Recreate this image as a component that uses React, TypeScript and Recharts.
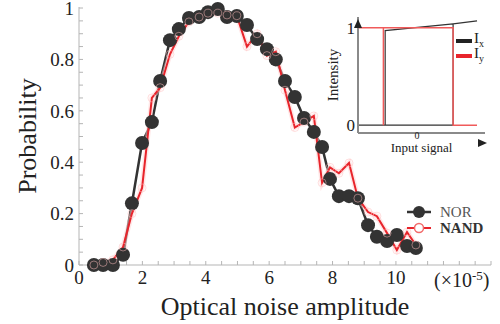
import { LineChart, Line, XAxis, YAxis, Label } from "recharts"

const serif = '"Liberation Serif", "Times New Roman", serif'

// noise amplitude (x 1e-5)
const amplitude = [0.47, 0.76, 1.07, 1.39, 1.67, 1.99, 2.3, 2.56, 2.87, 3.15, 3.47, 3.79, 4.07, 4.38, 4.67, 4.98, 5.3, 5.62, 5.93, 6.21, 6.5, 6.81, 7.1, 7.41, 7.67, 7.92, 8.2, 8.52, 8.8, 9.12, 9.4, 9.72, 10.03, 10.35, 10.63]
const norProb = [0, 0, 0, 0.04, 0.24, 0.475, 0.556, 0.716, 0.875, 0.918, 0.961, 0.965, 0.984, 0.996, 0.965, 0.969, 0.934, 0.879, 0.84, 0.8, 0.716, 0.654, 0.572, 0.518, 0.459, 0.335, 0.268, 0.268, 0.26, 0.155, 0.11, 0.093, 0.117, 0.074, 0.066]
const nandProb = [0, 0.01, 0.02, 0.07, 0.2, 0.3, 0.65, 0.69, 0.82, 0.89, 0.946, 0.965, 0.98, 0.98, 0.973, 0.97, 0.85, 0.9, 0.815, 0.83, 0.68, 0.535, 0.556, 0.58, 0.32, 0.38, 0.357, 0.397, 0.26, 0.206, 0.19, 0.124, 0.058, 0.128, 0.078]

const xMajor = [0, 2, 4, 6, 8, 10]
const yMajor = [0, 0.2, 0.4, 0.6, 0.8, 1]
const xMinor = Array.from({ length: 27 }, (_, i) => i * 0.5)
const yMinor = Array.from({ length: 21 }, (_, i) => Math.round(i * 5) / 100)

// inset: hysteresis of the two outputs
const ixSignal = [-1, 0.61, 0.61, -0.54, -0.54, -0.54, 0.61, 1.015]
const ixLevel = [0, 0, 1.04, 0.97, 0, 0.97, 1.04, 1.07]
const iySignal = [-0.57, -0.57, -1, 0.61, 0.61, 1.015]
const iyLevel = [0, 1, 1, 1, 0, 0]

const data = amplitude.map((x, i) => ({ x, nor: norProb[i], nand: nandProb[i] }))
const ixData = ixSignal.map((s, i) => ({ s, v: ixLevel[i] }))
const iyData = iySignal.map((s, i) => ({ s, v: iyLevel[i] }))

const axisGrey = "#b5b5b5"

function MainLegend() {
  return (
    <div style={{ position: "absolute", left: 406, top: 204, fontFamily: serif, fontSize: 15, lineHeight: "16px" }}>
      <div style={{ display: "flex", alignItems: "center", color: "#555" }}>
        <svg width={26} height={16}>
          <line x1={1} y1={8} x2={25} y2={8} stroke="#333" strokeWidth={2.5} />
          <circle cx={13} cy={8} r={6} fill="#333" />
        </svg>
        <span style={{ marginLeft: 8 }}>NOR</span>
      </div>
      <div style={{ display: "flex", alignItems: "center", color: "#333", fontWeight: "bold" }}>
        <svg width={26} height={16}>
          <line x1={1} y1={8} x2={25} y2={8} stroke="#e8242b" strokeWidth={2} />
          <circle cx={13} cy={8} r={4.5} fill="#fff" stroke="#f26b6b" strokeWidth={1.5} />
        </svg>
        <span style={{ marginLeft: 8 }}>NAND</span>
      </div>
    </div>
  )
}

function InsetLegend() {
  const row = (color: string, sub: string) => (
    <div style={{ display: "flex", alignItems: "center", height: 15 }}>
      <svg width={16} height={8}>
        <line x1={0} y1={4} x2={16} y2={4} stroke={color} strokeWidth={4} />
      </svg>
      <span style={{ marginLeft: 2 }}>
        I<sub style={{ fontSize: 10 }}>{sub}</sub>
      </span>
    </div>
  )
  return (
    <div style={{ position: "absolute", left: 456, top: 33, fontFamily: serif, fontSize: 15, color: "#222", lineHeight: "15px" }}>
      {row("#222", "x")}
      {row("#e8242b", "y")}
    </div>
  )
}

export default function App() {
  return (
    <div style={{ position: "absolute", left: 0, top: 0, width: 500, height: 324, background: "#fff" }}>
      <LineChart width={500} height={324} data={data} margin={{ top: 7, right: 9, left: 0, bottom: 0 }}>
        <XAxis
          dataKey="x"
          type="number"
          domain={[0, 13]}
          ticks={xMinor}
          interval={0}
          height={59}
          tickSize={-4}
          tickMargin={10}
          stroke={axisGrey}
          tick={{ fill: "#222", fontSize: 19, fontFamily: serif }}
          tickFormatter={(v: number) => (xMajor.includes(v) ? String(v) : "")}
        >
          <Label value="Optical noise amplitude" position="insideBottom" offset={9} style={{ fontSize: 26, fontFamily: serif, fill: "#222" }} />
        </XAxis>
        <XAxis xAxisId="top" orientation="top" type="number" domain={[0, 13]} ticks={xMinor} interval={0} height={0} tickSize={-4} tick={false} stroke={axisGrey} />
        <YAxis
          type="number"
          domain={[0, 1.004]}
          ticks={yMinor}
          interval={0}
          width={79}
          tickSize={-4}
          tickMargin={9}
          stroke={axisGrey}
          tick={{ fill: "#222", fontSize: 19, fontFamily: serif }}
          tickFormatter={(v: number) => (yMajor.includes(v) ? String(v) : "")}
        >
          <Label value="Probability" angle={-90} position="insideLeft" offset={27} style={{ fontSize: 26, fontFamily: serif, fill: "#222", textAnchor: "middle" }} />
        </YAxis>
        <YAxis yAxisId="right" orientation="right" type="number" domain={[0, 1.004]} ticks={yMinor} interval={0} width={0} tickSize={-4} tick={false} stroke={axisGrey} />
        <Line
          dataKey="nor"
          stroke="#333"
          strokeWidth={2.5}
          dot={{ r: 7, fill: "#333", stroke: "#333", strokeWidth: 0 }}
          activeDot={false}
          isAnimationActive={false}
        />
        <Line
          dataKey="nand"
          stroke="#ffd0d0"
          strokeWidth={5}
          strokeOpacity={0.5}
          dot={{ r: 4, fill: "none", stroke: "#ffbdbd", strokeWidth: 1 }}
          activeDot={false}
          isAnimationActive={false}
        />
        <Line dataKey="nand" stroke="#e8242b" strokeWidth={2} dot={false} activeDot={false} isAnimationActive={false} />
      </LineChart>

      <div
        style={{
          position: "absolute",
          left: 434,
          top: 268,
          fontFamily: serif,
          fontSize: 20,
          color: "#222",
          whiteSpace: "nowrap",
        }}
      >
        (×10<sup style={{ fontSize: 13, verticalAlign: "7px" }}>-5</sup>)
      </div>

      <div style={{ position: "absolute", left: 300, top: 10 }}>
        <LineChart width={190} height={145} margin={{ top: 7, right: 5, left: 0, bottom: 0 }}>
          <XAxis
            dataKey="s"
            type="number"
            domain={[-1, 1.15]}
            ticks={[0]}
            height={22}
            tickLine={false}
            tickSize={0}
            tickMargin={-1}
            axisLine={{ stroke: "#8a8a8a", strokeWidth: 2 }}
            tick={{ fill: "#222", fontSize: 10, fontFamily: serif }}
          >
            <Label value="Input signal" position="insideBottom" offset={3} style={{ fontSize: 13, fontFamily: serif, fill: "#222" }} />
          </XAxis>
          <YAxis
            type="number"
            domain={[-0.08, 1.11]}
            ticks={[0, 1]}
            width={58}
            tickLine={false}
            tickSize={0}
            tickMargin={3}
            axisLine={{ stroke: "#8a8a8a", strokeWidth: 2 }}
            tick={{ fill: "#222", fontSize: 17, fontFamily: serif }}
          >
            <Label value="Intensity" angle={-90} position="insideLeft" offset={33} style={{ fontSize: 15, fontFamily: serif, fill: "#222", textAnchor: "middle" }} />
          </YAxis>
          <Line data={ixData} dataKey="v" stroke="#333" strokeWidth={1.2} dot={false} activeDot={false} isAnimationActive={false} />
          <Line data={iyData} dataKey="v" stroke="#f05a5a" strokeWidth={1.5} dot={false} activeDot={false} isAnimationActive={false} />
        </LineChart>
        {/* axis arrowheads */}
        <svg width={190} height={145} style={{ position: "absolute", left: 0, top: 0, pointerEvents: "none" }}>
          <path d="M58,9 L62,18 L54,18 Z" fill="#222" />
          <path d="M187,133 L178,129 L178,137 Z" fill="#222" />
        </svg>
      </div>
      <MainLegend />
      <InsetLegend />
    </div>
  )
}
